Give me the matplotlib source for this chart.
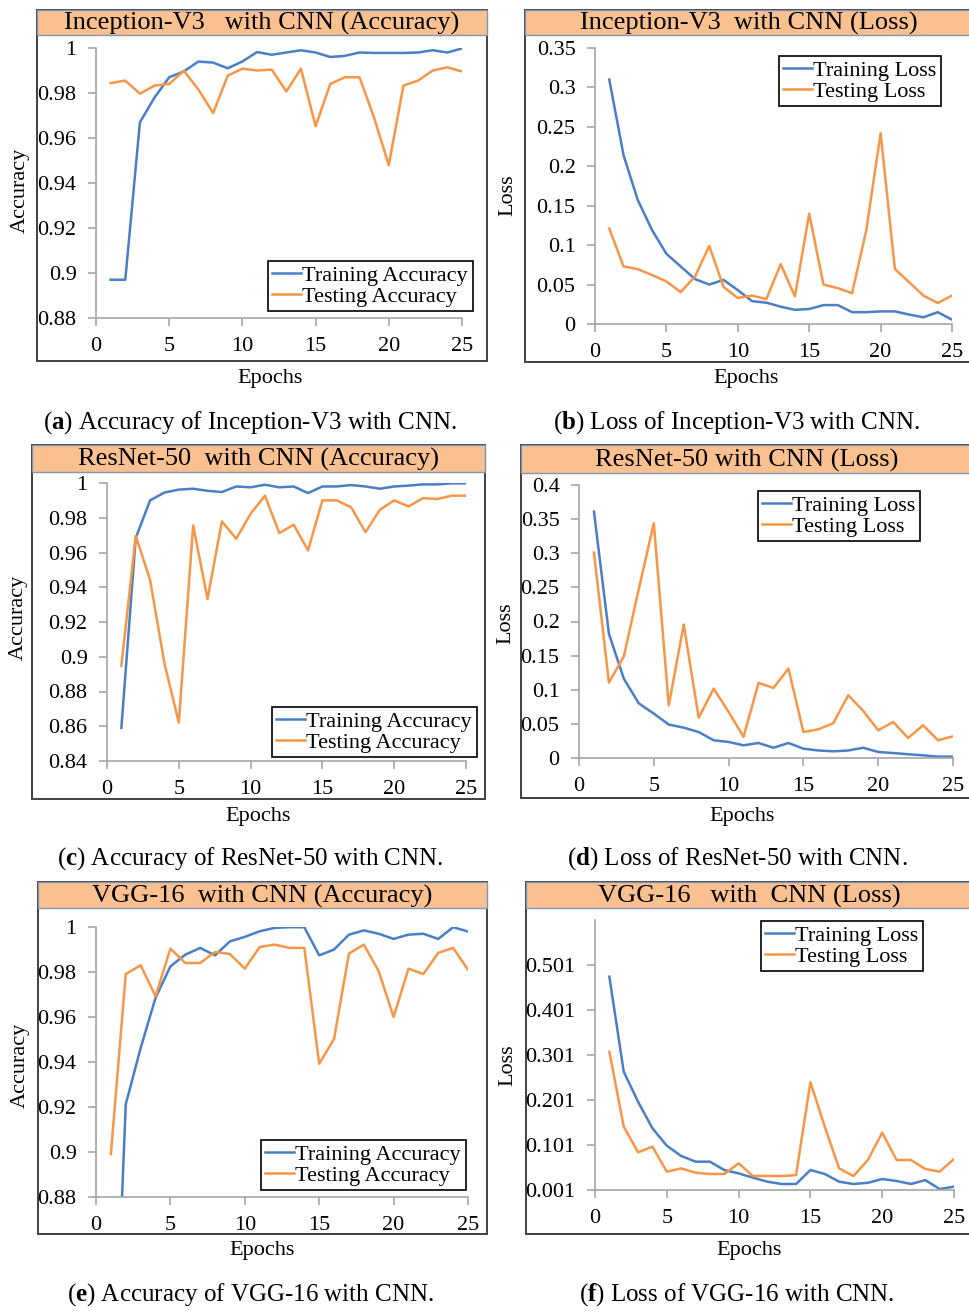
import numpy as np
import matplotlib
matplotlib.use('Agg')
import matplotlib.pyplot as plt
from matplotlib.patches import Rectangle

plt.rcParams['font.family'] = ['Liberation Serif', 'DejaVu Serif']
plt.rcParams['mathtext.fontset'] = 'custom'
plt.rcParams['mathtext.rm'] = 'Liberation Serif'
plt.rcParams['mathtext.bf'] = 'Liberation Serif:bold'

# data

epochs = np.arange(1, 26)

inc_train_acc = [0.897, 0.897, 0.967, 0.978, 0.987, 0.9896, 0.994, 0.9935, 0.991, 0.994,
                 0.9982, 0.997, 0.998, 0.999, 0.998, 0.996, 0.9965, 0.998, 0.9978, 0.9978,
                 0.9978, 0.998, 0.999, 0.998, 0.9998]
inc_test_acc = [0.9844, 0.9855, 0.9797, 0.9833, 0.984, 0.9899, 0.9815, 0.9711, 0.9877, 0.9908,
                0.990, 0.9904, 0.9807, 0.9908, 0.9652, 0.984, 0.987, 0.987, 0.9689, 0.9479,
                0.9833, 0.9855, 0.990, 0.9914, 0.9896]
inc_train_loss = [0.31, 0.214, 0.157, 0.119, 0.089, 0.073, 0.057, 0.050, 0.056, 0.043,
                  0.029, 0.027, 0.022, 0.018, 0.019, 0.024, 0.024, 0.015, 0.015, 0.016,
                  0.016, 0.012, 0.0085, 0.015, 0.0055]
inc_test_loss = [0.121, 0.073, 0.0696, 0.062, 0.054, 0.0405, 0.060, 0.099, 0.047, 0.033,
                 0.036, 0.0316, 0.076, 0.035, 0.140, 0.050, 0.0455, 0.039, 0.119, 0.242,
                 0.0696, 0.053, 0.036, 0.0266, 0.036]

res_train_acc = [0.859, 0.9683, 0.990, 0.9945, 0.9962, 0.9967, 0.9955, 0.9948, 0.998, 0.9975,
                 0.999, 0.9975, 0.998, 0.9942, 0.998, 0.998, 0.9988, 0.998, 0.9967, 0.998,
                 0.9985, 0.9992, 0.9992, 0.9998, 0.9998]
res_test_acc = [0.8948, 0.9696, 0.9442, 0.8962, 0.8621, 0.9756, 0.9333, 0.9779, 0.9679, 0.9823,
                0.9927, 0.9712, 0.976, 0.9612, 0.990, 0.990, 0.986, 0.9717, 0.9846, 0.990,
                0.9865, 0.9913, 0.9908, 0.9927, 0.9927]
res_train_loss = [0.361, 0.182, 0.116, 0.080, 0.065, 0.049, 0.0445, 0.038, 0.026, 0.0235,
                  0.0186, 0.022, 0.015, 0.022, 0.0137, 0.011, 0.0098, 0.011, 0.015, 0.0088,
                  0.0073, 0.0055, 0.004, 0.002, 0.002]
res_test_loss = [0.301, 0.1105, 0.149, 0.248, 0.344, 0.077, 0.1956, 0.059, 0.1017, 0.0675,
                 0.031, 0.110, 0.1027, 0.131, 0.038, 0.042, 0.051, 0.092, 0.069, 0.0406,
                 0.0528, 0.0293, 0.048, 0.026, 0.0318]

vgg_train_acc = [0.757, 0.9212, 0.9462, 0.9685, 0.9825, 0.9877, 0.9907, 0.9874, 0.9936, 0.9956,
                 0.9981, 0.9996, 0.9999, 0.9999, 0.9874, 0.990, 0.9966, 0.9985, 0.997, 0.9947,
                 0.9966, 0.997, 0.9947, 0.9999, 0.998]
vgg_test_acc = [0.8991, 0.9791, 0.983, 0.9692, 0.9904, 0.984, 0.984, 0.9889, 0.988, 0.9815,
                0.9911, 0.9922, 0.9907, 0.9907, 0.9392, 0.9503, 0.9882, 0.9922, 0.9803, 0.960,
                0.9815, 0.9791, 0.9885, 0.9907, 0.981]
vgg_train_loss = [0.475, 0.264, 0.197, 0.138, 0.0995, 0.0766, 0.064, 0.064, 0.0454, 0.038,
                  0.0284, 0.0195, 0.0143, 0.0143, 0.0454, 0.0366, 0.0195, 0.0143, 0.017, 0.0254,
                  0.021, 0.0143, 0.023, 0.0032, 0.0084]
vgg_test_loss = [0.3084, 0.1417, 0.0847, 0.0973, 0.0417, 0.049, 0.0395, 0.0366, 0.0366, 0.0603,
                 0.0321, 0.0321, 0.0321, 0.034, 0.2403, 0.1417, 0.049, 0.0321, 0.0677, 0.1284,
                 0.0677, 0.0677, 0.0477, 0.0417, 0.0699]

acc_ticks = [0.88, 0.9, 0.92, 0.94, 0.96, 0.98, 1]
acc_ticks_res = [0.84, 0.86, 0.88, 0.9, 0.92, 0.94, 0.96, 0.98, 1]
loss_ticks_inc = [0, 0.05, 0.1, 0.15, 0.2, 0.25, 0.3, 0.35]
loss_ticks_res = [0, 0.05, 0.1, 0.15, 0.2, 0.25, 0.3, 0.35, 0.4]
loss_ticks_vgg = [0.001, 0.101, 0.201, 0.301, 0.401, 0.501]
x_ticks = [0, 5, 10, 15, 20, 25]

W, H = 969, 1311
BLUE = '#4A7FC6'
ORANGE = '#F79646'

fig = plt.figure(figsize=(W / 100, H / 100), dpi=100)


def fx(px):
    return px / W


def fy(py):
    return 1 - py / H


def fmt(v):
    return ('%g' % v)


def make_panel(box, axbox, title, ylabel, ylab_xy, xlab_xy, train, test, kind,
               ylim, yticks, leg_xy, caption, cap_xy, tlabels=None):
    l, t, band, r, b = box
    # outer box and orange title band
    fig.add_artist(Rectangle((fx(l), fy(b)), fx(r - l), (b - t) / H, transform=fig.transFigure,
                             facecolor='white', edgecolor='#404040', lw=1.4, zorder=-5))
    fig.add_artist(Rectangle((fx(l), fy(band)), fx(r - l), (band - t) / H, transform=fig.transFigure,
                             facecolor='#FAC08F', edgecolor='#8096B3', lw=1.0, zorder=-4))
    fig.text(fx((l + r) / 2), fy((t + band) / 2 + 1), title, ha='center', va='center', fontsize=19)

    al, at, ar, ab = axbox
    ax = fig.add_axes([fx(al), fy(ab), fx(ar - al), (ab - at) / H])
    ax.patch.set_visible(False)
    ax.plot(epochs, train, color=BLUE, lw=1.8, label='Training ' + kind)
    ax.plot(epochs, test, color=ORANGE, lw=1.8, label='Testing ' + kind)
    ax.set_xlim(0, 25)
    ax.set_ylim(*ylim)
    ax.set_xticks(x_ticks)
    ax.set_yticks(yticks)
    ax.set_yticklabels(tlabels if tlabels else [fmt(v) for v in yticks])
    for s in ['top', 'right']:
        ax.spines[s].set_visible(False)
    for s in ['left', 'bottom']:
        ax.spines[s].set_color('#A6A6A6')
        ax.spines[s].set_linewidth(1.2)
    ax.tick_params(direction='out', length=6, width=1.2, color='#A6A6A6',
                   labelsize=16, pad=8)

    fig.text(fx(ylab_xy[0]), fy(ylab_xy[1]), ylabel, rotation=90, ha='center', va='center', fontsize=16)
    fig.text(fx(xlab_xy[0]), fy(xlab_xy[1]), 'Epochs', ha='center', va='center', fontsize=16)

    leg = ax.legend(loc='upper left', bbox_to_anchor=(fx(leg_xy[0]), fy(leg_xy[1])),
                    bbox_transform=fig.transFigure, fancybox=False, edgecolor='black',
                    framealpha=1, borderaxespad=0, handlelength=1.3, handletextpad=0.05,
                    labelspacing=0.02, borderpad=0.2, fontsize=16)
    leg.get_frame().set_linewidth(1.2)

    fig.text(fx(cap_xy[0]), fy(cap_xy[1]), caption, ha='center', va='center', fontsize=18)
    return ax


make_panel((37, 10, 35, 487, 361), (96, 48, 462, 318), 'Inception-V3   with CNN (Accuracy)',
           'Accuracy', (20, 190), (270, 378), inc_train_acc, inc_test_acc, 'Accuracy',
           (0.88, 1.0), acc_ticks, (268, 261),
           r'($\mathbf{a}$) Accuracy of Inception-V3 with CNN.', (250, 423))

make_panel((525, 10, 35, 972, 362), (595, 48, 952, 324), 'Inception-V3  with CNN (Loss)',
           'Loss', (508, 195), (746, 378), inc_train_loss, inc_test_loss, 'Loss',
           (0, 0.35), loss_ticks_inc, (779, 56),
           r'($\mathbf{b}$) Loss of Inception-V3 with CNN.', (737, 423))

make_panel((32, 445, 472, 485, 799), (107, 483, 466, 761), 'ResNet-50  with CNN (Accuracy)',
           'Accuracy', (18, 617), (258, 816), res_train_acc, res_test_acc, 'Accuracy',
           (0.84, 1.0), acc_ticks_res, (272, 707),
           r'($\mathbf{c}$) Accuracy of ResNet-50 with CNN.', (250, 859))

make_panel((521, 445, 473, 972, 798), (579, 485, 953, 758), 'ResNet-50 with CNN (Loss)',
           'Loss', (506, 623), (742, 816), res_train_loss, res_test_loss, 'Loss',
           (0, 0.4), loss_ticks_res, (758, 491),
           r'($\mathbf{d}$) Loss of ResNet-50 with CNN.', (737, 859))

make_panel((38, 882, 908, 487, 1234), (96, 927, 468, 1197), 'VGG-16  with CNN (Accuracy)',
           'Accuracy', (20, 1065), (262, 1250), vgg_train_acc, vgg_test_acc, 'Accuracy',
           (0.88, 1.0), acc_ticks, (261, 1140),
           r'($\mathbf{e}$) Accuracy of VGG-16 with CNN.', (250, 1295))

make_panel((526, 882, 908, 972, 1234), (595, 920, 954, 1190), 'VGG-16   with  CNN (Loss)',
           'Loss', (508, 1065), (749, 1250), vgg_train_loss, vgg_test_loss, 'Loss',
           (0.001, 0.601), loss_ticks_vgg, (761, 921),
           r'($\mathbf{f}$) Loss of VGG-16 with CNN.', (737, 1295),
           tlabels=['0.001', '0.101', '0.201', '0.301', '0.401', '0.501'])

fig.savefig('out.png', dpi=100)
